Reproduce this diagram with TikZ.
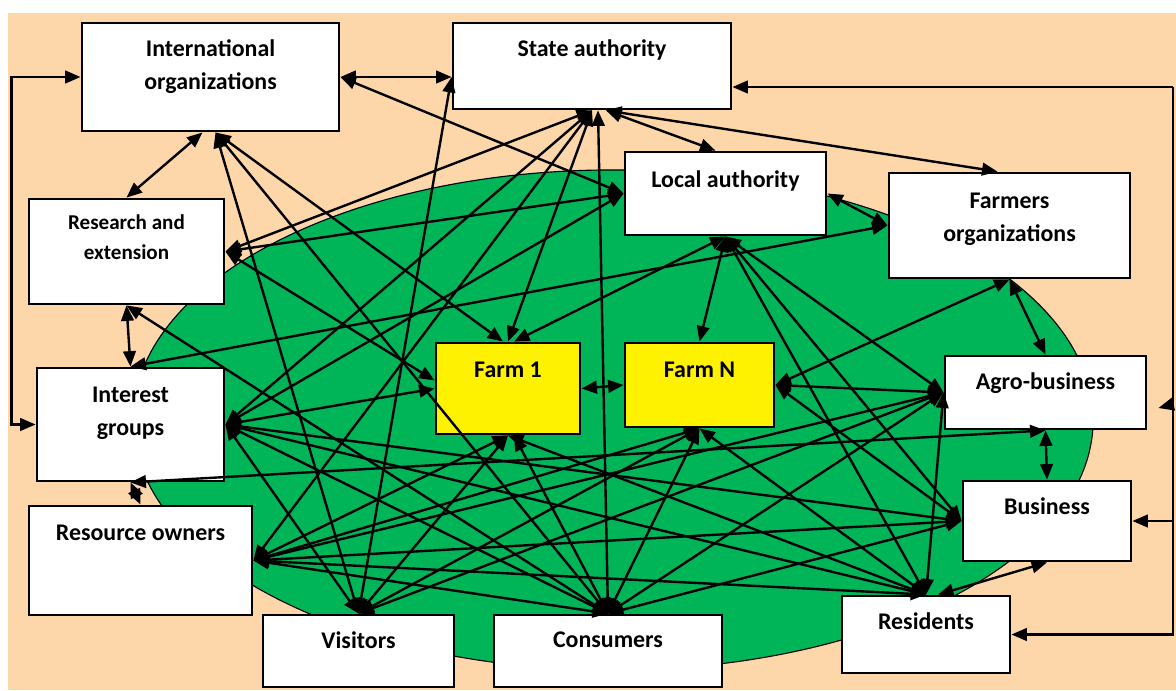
\documentclass[tikz,border=0pt]{standalone}
\usepackage{fontspec}
\setmainfont{Carlito}
\usepackage{xcolor}
\usepackage{tikz}
\usetikzlibrary{arrows.meta,calc,positioning}
\definecolor{peach}{RGB}{253,214,170}
\definecolor{field}{RGB}{0,181,88}

\begin{document}
\begin{tikzpicture}[x=0.025cm, y=-0.025cm, >={Triangle[length=11pt,width=9pt]},
                    actor/.style={draw, line width=2pt, fill=white, inner sep=0pt},
                    farm/.style={actor, fill=yellow},
                    txt/.style={anchor=north, inner sep=0pt, yshift=-13pt, align=center, font=\bfseries\fontsize{17}{23.5}\selectfont},
                    txtsmall/.style={txt, yshift=1pt, font=\bfseries\fontsize{15}{21}\selectfont},
                    link/.style={<->, line width=1.7pt}]
                    \useasboundingbox (0,0) rectangle (1176,690);
                    \fill[peach] (8,13) rectangle (1176,690);
                    \filldraw[fill=field, draw=black, line width=0.8pt] (613,420) ellipse [x radius=12cm, y radius=6.25cm];

                    \node[actor, minimum width=6.425cm, minimum height=2.7cm, label={[txt]north:{International\\organizations}}] (io) at (210.5,77) {};
                    \node[actor, minimum width=6.95cm, minimum height=2.15cm, label={[txt]north:{State authority}}] (sa) at (592,66) {};
                    \node[actor, minimum width=5.025cm, minimum height=2.075cm, label={[txt, yshift=-1pt]north:{Local authority}}] (la) at (725.5,193.5) {};
                    \node[actor, minimum width=6.025cm, minimum height=2.625cm, label={[txt, yshift=-2pt]north:{Farmers\\organizations}}] (fo) at (1009.5,225.5) {};
                    \node[actor, minimum width=4.875cm, minimum height=2.625cm, label={[txtsmall]north:{Research and\\extension}}] (re) at (126.5,251.5) {};
                    \node[actor, minimum width=4.675cm, minimum height=2.825cm, label={[txt, yshift=-1pt]north:{Interest\\groups}}] (ig) at (130.5,424.5) {};
                    \node[farm, minimum width=3.6cm, minimum height=2.275cm, label={[txt, yshift=-1pt]north:{Farm 1}}] (f1) at (508,388.5) {};
                    \node[farm, minimum width=3.725cm, minimum height=2.1cm, label={[txt, yshift=-1pt]north:{Farm N}}] (fn) at (699.5,385) {};
                    \node[actor, minimum width=5.025cm, minimum height=1.825cm, label={[txt]north:{Agro-business}}] (ag) at (1045.5,392.5) {};
                    \node[actor, minimum width=4.2cm, minimum height=2cm, label={[txt]north:{Business}}] (bu) at (1047,521) {};
                    \node[actor, minimum width=5.575cm, minimum height=2.725cm, label={[txt, yshift=-1pt]north:{Resource owners}}] (ro) at (140.5,560.5) {};
                    \node[actor, minimum width=4.775cm, minimum height=1.8cm, label={[txt]north:{Visitors}}] (vi) at (358.5,651) {};
                    \node[actor, minimum width=5.7cm, minimum height=1.8cm, label={[txt]north:{Consumers}}] (co) at (608,651) {};
                    \node[actor, minimum width=4.2cm, minimum height=1.925cm, label={[txt]north:{Residents}}] (rs) at (926,634.5) {};

                    \draw[link] (io.west) -- ++(-69,0) |- (ig.west);
                    \coordinate (spine) at (1173,87);
                    \draw[->, line width=1.7pt] (spine) -- (spine -| sa.east);
                    \draw[->, line width=1.7pt] (spine) |- (rs.east);
                    \draw[->, line width=1.7pt] (spine |- bu.east) -- (bu.east);
                    \draw[->, line width=1.7pt] ($(spine)+(-3,318)$) -- ($(ag.east)+(11,15.5)$);

                    \draw[link] (io.east) -- (io.east -| sa.west);
                    \draw[link] ($(io.south)+(-8,0)$) -- (re.north);
                    \draw[link] (re.south) -- (ig.north);
                    \draw[link] (ig.south) -- (ro.north);
                    \draw[link] ($(sa.south)+(14,0)$) -- ($(la.north)+(-10,0)$);
                    \draw[link] ($(sa.south)+(14,0)$) -- ($(fo.north)+(-12,0)$);
                    \draw[link] (la.east) -- (fo.west);
                    \draw[link] (fo.south) -- (ag.north);
                    \draw[link] (ag.south) -- (bu.north);
                    \draw[link] (bu.south) -- ($(rs.north)+(12,0)$);
                    \draw[link] (f1.east) -- (fn.west);

                    \draw[link] ($(io.south)+(5,0)$) -- (vi.north);
                    \draw[link] ($(io.south)+(5,0)$) -- (co.north);
                    \draw[link] ($(io.south)+(5,0)$) -- ($(f1.north)+(-5,0)$);
                    \draw[link] (io.east) -- (la.west);
                    \draw[link] (sa.south) -- (re.east);
                    \draw[link] (sa.south) -- (ig.east);
                    \draw[link] (sa.south) -- (ro.east);
                    \draw[link] (sa.south) -- (f1.north);
                    \draw[link] ($(sa.south)+(6,0)$) -- (co.north);
                    \draw[link] (io.east -| sa.west) -- (vi.north);
                    \draw[link] (la.west) -- (re.east);
                    \draw[link] (la.west) -- (ig.east);
                    \draw[link] (la.south) -- ($(f1.north)+(6,0)$);
                    \draw[link] (la.south) -- (fn.north);
                    \draw[link] (la.south) -- (ag.west);
                    \draw[link] (la.south) -- (bu.west);
                    \draw[link] (la.south) -- (rs.north);
                    \draw[link] (fo.west) -- (ig.north);
                    \draw[link] (fo.south) -- (fn.east);
                    \draw[link] (re.east) -- ($(f1.west)+(0,-8)$);
                    \draw[link] (re.south) -- (co.north);
                    \draw[link] (ig.east) -- (f1.west);
                    \draw[link] (ig.east) -- (bu.west);
                    \draw[link] (ig.east) -- (rs.north);
                    \draw[link] (ig.east) -- (co.north);
                    \draw[link] (ig.east) -- (vi.north);
                    \draw[link] (ig.south) -- (ag.south);
                    \draw[link] (ro.east) -- (f1.south);
                    \draw[link] (ro.east) -- (fn.south);
                    \draw[link] (ro.east) -- (ag.west);
                    \draw[link] (ro.east) -- (bu.west);
                    \draw[link] (ro.east) -- (rs.north);
                    \draw[link] (ro.east) -- (co.north);
                    \draw[link] (vi.north) -- (f1.south);
                    \draw[link] (vi.north) -- (fn.south);
                    \draw[link] (vi.north) -- (ag.west);
                    \draw[link] (co.north) -- ($(f1.south)+(6,0)$);
                    \draw[link] (co.north) -- (fn.south);
                    \draw[link] (co.north) -- (ag.west);
                    \draw[link] (co.north) -- (bu.west);
                    \draw[link] (fn.east) -- (ag.west);
                    \draw[link] (fn.east) -- (bu.west);
                    \draw[link] (fn.south) -- (rs.north);
                    \draw[link] (f1.south) -- (rs.north);
                    \draw[link] (ag.west) -- (rs.north);
                \end{tikzpicture}
\end{document}
